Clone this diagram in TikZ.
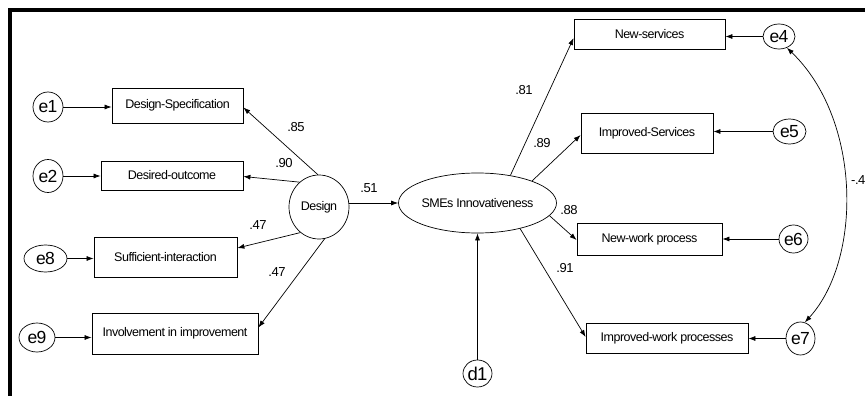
\documentclass[tikz,border=0pt]{standalone}
\usepackage{fontspec}
\setmainfont{Liberation Sans}
\newfontfamily\condfont[LetterSpace=-4]{Liberation Sans}
\usetikzlibrary{arrows.meta,calc,shapes.geometric}
\tikzset{
  box/.style={draw,line width=0.8pt,rectangle,inner sep=0pt,font=\condfont\fontsize{12.5}{14}\selectfont},
  latent/.style={draw,line width=0.7pt,ellipse,inner sep=0pt,font=\condfont\fontsize{12.5}{14}\selectfont},
  err/.style={draw,line width=0.7pt,ellipse,inner sep=0pt,font=\condfont\fontsize{17.5}{19}\selectfont},
  arr/.style={line width=0.7pt,-{Latex[length=7pt,width=5pt]}},
  coef/.style={font=\condfont\fontsize{13}{15}\selectfont,inner sep=0pt},
  frame/.style={line width=3.5pt}
}
\begin{document}
\begin{tikzpicture}[x=1pt,y=-1pt]
\useasboundingbox (0,0) rectangle (865,396);
% frame
\coordinate (ftl) at (9.8,9.8);
\coordinate (ftr) at (866,9.8);
\coordinate (fbl) at (9.8,397);
\draw[frame] (ftr) -- (ftl) -- (fbl);

% left indicators
\node[box,minimum width=131pt,minimum height=35pt] (ds) at (177.5,105.5) {Design-Specification};
\node[box,minimum width=142pt,minimum height=29pt] (do) at (172,175.5) {Desired-outcome};
\node[box,minimum width=143pt,minimum height=40pt] (si) at (165.5,257) {Sufficient-interaction};
\node[box,minimum width=166pt,minimum height=41pt] (ii) at (175,333.5) {Involvement in improvement};

\node[err,minimum width=30pt,minimum height=30pt] (e1) at (48,107) {e1};
\node[err,minimum width=30pt,minimum height=33pt] (e2) at (48,176) {e2};
\node[err,minimum width=43pt,minimum height=27pt] (e8) at (45.5,258.5) {e8};
\node[err,minimum width=36pt,minimum height=29pt] (e9) at (37,337.5) {e9};

% latents
\node[latent,minimum width=60pt,minimum height=64pt] (design) at (319,207) {Design};
\node[latent,minimum width=121pt,minimum height=60pt] (smes) at (477.5,203) {SMEs Innovativeness};
\node[err,minimum width=29pt,minimum height=27pt,font=\condfont\fontsize{18.5}{20}\selectfont] (d1) at (477.5,373.5) {d1};

% right indicators
\node[box,minimum width=151pt,minimum height=30pt] (ns) at (649.5,34) {New-services};
\node[box,minimum width=132pt,minimum height=40pt] (is) at (647,133) {Improved-Services};
\node[box,minimum width=145pt,minimum height=32pt] (nw) at (649.5,239) {New-work process};
\node[box,minimum width=162pt,minimum height=30pt] (iw) at (667,338) {Improved-work processes};

\node[err,minimum width=32pt,minimum height=25pt] (e4) at (779,36.5) {e4};
\node[err,minimum width=33pt,minimum height=25pt] (e5) at (789.5,131.5) {e5};
\node[err,minimum width=29pt,minimum height=28pt] (e6) at (793.5,239) {e6};
\node[err,minimum width=29pt,minimum height=33pt] (e7) at (800.5,338.5) {e7};

% error arrows
\draw[arr] (e1.east) -- (ds.west |- e1);
\draw[arr] (e2.east) -- (do.west |- e2);
\draw[arr] (e8.east) -- (si.west |- e8);
\draw[arr] (e9.east) -- (ii.west |- e9);
\draw[arr] (e4.west) -- (ns.east |- e4);
\draw[arr] (e5.west) -- (is.east |- e5);
\draw[arr] (e6.west) -- (nw.east |- e6);
\draw[arr] (e7.west) -- (iw.east |- e7);

% loadings
\draw[arr] (design.92) -- ($(ds.east)+(0,2)$);
\draw[arr] (design.128) -- ($(do.east)+(0,1)$);
\draw[arr] (design.234) -- ($(si.east)+(0,-9)$);
\draw[arr] (design.280) -- ($(ii.east)+(0,-6)$);
\draw[arr] (design.east |- smes) -- (smes.west);
\draw[arr] (d1.north) -- (smes.south);
\draw[arr] (smes.40) -- ($(ns.west)+(0,4)$);
\draw[arr] (smes.22) -- ($(is.west)+(0,2)$);
\draw[arr] (smes.350) -- ($(nw.west)+(0,1)$);
\draw[arr] (smes.329) -- ($(iw.west)+(0,-1)$);

% covariance
\draw[line width=0.7pt,{Latex[length=7pt,width=5pt]}-{Latex[length=7pt,width=5pt]}]
  (e4.-55) .. controls (862,120) and (862,260) .. (e7.75);

% coefficients
\node[coef] (c1) at (296,127) {.85};
\node[coef] (c2) at (284,163) {.90};
\node[coef] (c3) at (258,225) {.47};
\node[coef] (c4) at (277,272) {.47};
\node[coef] (c5) at (369,188) {.51};
\node[coef] (c6) at (524,90) {.81};
\node[coef] (c7) at (542,143) {.89};
\node[coef] (c8) at (569,210) {.88};
\node[coef] (c9) at (565,268) {.91};
\node[coef,anchor=west] (c10) at (851,180) {-.4};
\end{tikzpicture}
\end{document}
